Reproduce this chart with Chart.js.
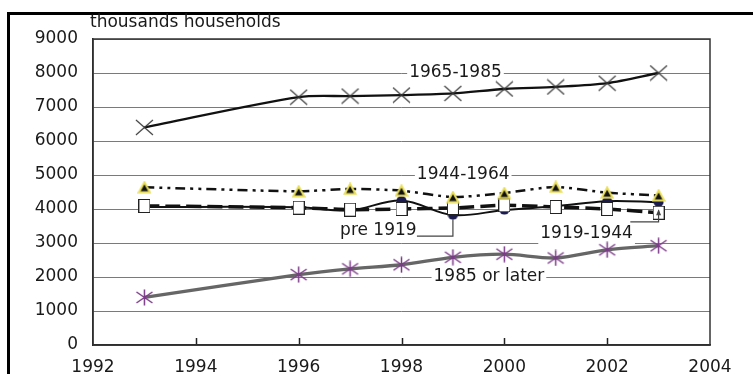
<!DOCTYPE html>
<html>
<head>
<meta charset="utf-8">
<script src="https://cdn.jsdelivr.net/npm/chart.js@4.4.1/dist/chart.umd.min.js"></script>
<style>
  html, body { margin: 0; padding: 0; background: #fff; }
  #wrap { position: relative; width: 753px; height: 374px; overflow: hidden; }
  #frame { position: absolute; left: 7px; top: 12px; width: 760px; height: 380px;
           border-top: 3px solid #000; border-left: 3px solid #000; }
  canvas { position: absolute; left: 0; top: 0; }
</style>
</head>
<body>
<div id="wrap">
  <div id="frame"></div>
  <canvas id="chart" width="753" height="374"></canvas>
</div>
<script>
// data (thousands of households)
const years = [1993, 1996, 1997, 1998, 1999, 2000, 2001, 2002, 2003];
const built1965to1985 = [6400, 7290, 7320, 7350, 7400, 7530, 7590, 7700, 8000];
const built1944to1964 = [4640, 4520, 4590, 4540, 4350, 4470, 4650, 4480, 4400];
const built1919to1944 = [4090, 4040, 3980, 4000, 4030, 4110, 4060, 4000, 3890];
const builtPre1919    = [4060, 4050, 3960, 4250, 3820, 3970, 4080, 4230, 4200];
const built1985later  = [1400, 2070, 2240, 2360, 2580, 2670, 2560, 2800, 2920];
const xTicks = [1992, 1994, 1996, 1998, 2000, 2002, 2004];
const yTicks = [0, 1000, 2000, 3000, 4000, 5000, 6000, 7000, 8000, 9000];

const FONT = 'DejaVu Sans';

function pts(vals) {
  return vals.map((v, i) => ({ x: years[i], y: v }));
}

function marker(w, h, draw) {
  const c = document.createElement('canvas');
  c.width = w; c.height = h;
  draw(c.getContext('2d'), w, h);
  return c;
}

const xMark = marker(19, 17, (g, w, h) => {
  g.strokeStyle = '#3a3a3a'; g.lineWidth = 1.1;
  g.beginPath();
  g.moveTo(1, 1); g.lineTo(w - 1, h - 1);
  g.moveTo(w - 1, 1); g.lineTo(1, h - 1);
  g.stroke();
});
const starMark = marker(19, 17, (g, w, h) => {
  g.strokeStyle = '#7b3a88'; g.lineWidth = 1.5;
  g.beginPath();
  g.moveTo(w / 2, 0.5); g.lineTo(w / 2, h - 0.5);
  g.moveTo(1.5, 3); g.lineTo(w - 1.5, h - 3);
  g.moveTo(w - 1.5, 3); g.lineTo(1.5, h - 3);
  g.stroke();
});
const triMark = marker(14, 13, (g, w, h) => {
  g.fillStyle = '#111'; g.strokeStyle = '#e9de5a'; g.lineWidth = 2;
  g.beginPath();
  g.moveTo(w / 2, 1.5); g.lineTo(w - 1.5, h - 1.5); g.lineTo(1.5, h - 1.5);
  g.closePath(); g.fill(); g.stroke();
});
const sqMark = marker(12, 14, (g, w, h) => {
  g.fillStyle = '#fff'; g.strokeStyle = '#222'; g.lineWidth = 1;
  g.fillRect(0.5, 0.5, w - 1, h - 1);
  g.strokeRect(0.5, 0.5, w - 1, h - 1);
});
const dotMark = marker(11, 10, (g, w, h) => {
  g.fillStyle = '#1b1b4d';
  g.beginPath();
  g.ellipse(w / 2, h / 2, w / 2 - 0.5, h / 2 - 0.5, 0, 0, Math.PI * 2);
  g.fill();
});

// series name labels, anchored in data coordinates
const seriesLabels = [
  { text: '1965-1985', x: 1999.05, y: 8000 },
  { text: '1944-1964', x: 1999.2, y: 5000 },
  { text: 'pre 1919', x: 1997.55, y: 3380 },
  { text: '1919-1944', x: 2001.6, y: 3290 },
  { text: '1985 or later', x: 1999.7, y: 2000 }
];

const decor = {
  id: 'decor',
  beforeDatasetsDraw(chart) {
    const { ctx, chartArea: a, scales: { x, y } } = chart;
    ctx.save();
    // inward ticks on the x axis
    ctx.strokeStyle = '#222'; ctx.lineWidth = 1.5;
    xTicks.slice(1, -1).forEach(t => {
      const px = Math.round(x.getPixelForValue(t)) + 0.5;
      ctx.beginPath(); ctx.moveTo(px, a.bottom); ctx.lineTo(px, a.bottom - 7); ctx.stroke();
    });
    // plot frame
    ctx.strokeStyle = '#333'; ctx.lineWidth = 1.5;
    ctx.strokeRect(a.left, a.top, a.right - a.left, a.bottom - a.top);
    // series labels on white boxes
    ctx.font = '17px "' + FONT + '"';
    ctx.textAlign = 'center'; ctx.textBaseline = 'middle';
    seriesLabels.forEach(l => {
      const px = x.getPixelForValue(l.x), py = y.getPixelForValue(l.y);
      const w = ctx.measureText(l.text).width;
      ctx.fillStyle = '#fff';
      ctx.fillRect(px - w / 2 - 2, py - 11, w + 4, 22);
      ctx.fillStyle = '#1a1a1a';
      ctx.fillText(l.text, px, py);
    });
    // title
    ctx.textAlign = 'left';
    ctx.fillText('thousands households', 90, 23);
    ctx.restore();
  },
  afterDatasetsDraw(chart) {
    const { ctx, scales: { x, y } } = chart;
    ctx.save();
    ctx.strokeStyle = '#444'; ctx.lineWidth = 1.2;
    // pre 1919 leader
    ctx.beginPath();
    ctx.moveTo(x.getPixelForValue(1998.3), y.getPixelForValue(3200));
    ctx.lineTo(x.getPixelForValue(1999), y.getPixelForValue(3200));
    ctx.lineTo(x.getPixelForValue(1999), y.getPixelForValue(3700));
    ctx.stroke();
    // 1919-1944 leader with arrow
    const ax = x.getPixelForValue(2003);
    const tip = y.getPixelForValue(3960);
    ctx.beginPath();
    ctx.moveTo(x.getPixelForValue(2002.45), y.getPixelForValue(3620));
    ctx.lineTo(ax, y.getPixelForValue(3620));
    ctx.lineTo(ax, tip);
    ctx.stroke();
    ctx.fillStyle = '#444';
    ctx.beginPath();
    ctx.moveTo(ax, tip - 1); ctx.lineTo(ax - 2.5, tip + 5); ctx.lineTo(ax + 2.5, tip + 5);
    ctx.closePath(); ctx.fill();
    ctx.restore();
  }
};

new Chart(document.getElementById('chart'), {
  type: 'line',
  data: {
    datasets: [
      { label: '1944-1964', data: pts(built1944to1964), borderColor: '#111', borderWidth: 2.5,
        borderDash: [10, 5, 3, 5, 3, 5], tension: 0.2, pointStyle: triMark },
      { label: '1919-1944', data: pts(built1919to1944), borderColor: '#111', borderWidth: 3.5,
        borderDash: [15, 6], tension: 0.2, pointStyle: sqMark },
      { label: 'pre 1919', data: pts(builtPre1919), borderColor: '#111', borderWidth: 2,
        tension: 0.35, pointStyle: dotMark },
      { label: '1965-1985', data: pts(built1965to1985), borderColor: '#111', borderWidth: 2.3,
        tension: 0.3, pointStyle: xMark },
      { label: '1985 or later', data: pts(built1985later), borderColor: '#666', borderWidth: 3.3,
        tension: 0.3, pointStyle: starMark }
    ]
  },
  options: {
    responsive: false,
    animation: false,
    events: [],
    layout: { padding: { left: 0, top: 39, right: 43, bottom: 0 } },
    plugins: { legend: { display: false }, tooltip: { enabled: false } },
    scales: {
      x: {
        type: 'linear', min: 1992, max: 2004,
        afterBuildTicks: s => { s.ticks = xTicks.map(v => ({ value: v })); },
        afterFit: s => { s.height = 29; },
        grid: { display: false },
        border: { display: true, color: '#222', width: 1.5 },
        ticks: { color: '#1a1a1a', font: { family: FONT, size: 17 }, padding: 4,
                 maxRotation: 0, autoSkip: false, callback: v => String(v) }
      },
      y: {
        min: 0, max: 9000,
        afterBuildTicks: s => { s.ticks = yTicks.map(v => ({ value: v })); },
        afterFit: s => { s.width = 93; },
        grid: { color: '#7a7a7a', lineWidth: 1, drawTicks: false },
        border: { display: true, color: '#222', width: 1.5 },
        ticks: { color: '#1a1a1a', font: { family: FONT, size: 17 }, padding: 15,
                 callback: v => String(v) }
      }
    }
  },
  plugins: [decor]
});
</script>
</body>
</html>
